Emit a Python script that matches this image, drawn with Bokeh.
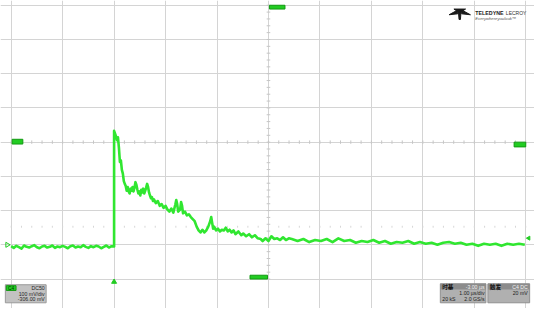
import math
from bokeh.plotting import figure
from bokeh.models import Range1d, Grid, FixedTicker, Label
from bokeh.embed import file_html
from bokeh.resources import INLINE

# ---------------- data (time in µs, C4 signal in mV as displayed) ----------------
time_us = [
    -5.00, -4.95, -4.90, -4.85, -4.80, -4.75, -4.70, -4.65, -4.60, -4.55,
    -4.50, -4.45, -4.40, -4.35, -4.30, -4.25, -4.20, -4.15, -4.10, -4.05,
    -4.00, -3.95, -3.90, -3.85, -3.80, -3.75, -3.70, -3.65, -3.60, -3.55,
    -3.50, -3.45, -3.40, -3.35, -3.30, -3.25, -3.20, -3.15, -3.10, -3.05,
    -3.00, -3.00,
    -2.981, -2.962, -2.943, -2.925, -2.906, -2.887, -2.868, -2.849, -2.830, -2.811,
    -2.792, -2.774, -2.755, -2.736, -2.717, -2.698, -2.679, -2.660, -2.642, -2.623,
    -2.604, -2.585, -2.566, -2.547, -2.528, -2.509, -2.491, -2.472, -2.453, -2.434,
    -2.415, -2.396, -2.377, -2.358, -2.340, -2.321, -2.302, -2.283, -2.264, -2.245,
    -2.226, -2.189, -2.151, -2.113, -2.075, -2.038, -2.000, -1.962, -1.925, -1.887,
    -1.849, -1.811, -1.792, -1.774, -1.755, -1.717, -1.698, -1.679, -1.660, -1.623,
    -1.585, -1.547, -1.509, -1.472, -1.434, -1.396, -1.358, -1.321, -1.283, -1.245,
    -1.208, -1.170, -1.132, -1.113, -1.094, -1.075, -1.057, -1.019, -0.981, -0.943,
    -0.906, -0.868, -0.830, -0.792, -0.755, -0.717, -0.679, -0.642, -0.585, -0.528,
    -0.491, -0.434, -0.377, -0.321, -0.264, -0.208, -0.151, -0.113, -0.057, 0.000,
    0.057, 0.113, 0.170, 0.226, 0.283, 0.340, 0.396, 0.453, 0.566, 0.679,
    0.792, 0.906, 1.019, 1.132, 1.245, 1.358, 1.472, 1.585, 1.698, 1.811,
    1.925, 2.038, 2.151, 2.264, 2.377, 2.491, 2.604, 2.717, 2.830, 2.943,
    3.057, 3.170, 3.283, 3.396, 3.509, 3.623, 3.736, 3.849, 3.962, 4.075,
    4.189, 4.302, 4.415, 4.528, 4.642, 4.755, 4.868, 4.981,
]
signal_mv = [
    -304, -309, -303, -307, -311, -302, -306, -308, -304, -301,
    -307, -310, -305, -303, -308, -306, -302, -309, -305, -307,
    -303, -306, -310, -304, -302, -308, -305, -307, -301, -306,
    -309, -304, -307, -303, -305, -310, -306, -302, -308, -304,
    -305, 33,
    25, 17, 6, 14, -17, -58, -53, -81, -92, -114,
    -122, -128, -142, -131, -144, -150, -136, -142, -131, -144,
    -133, -117, -125, -139, -150, -144, -156, -139, -147, -136,
    -150, -142, -133, -122, -131, -147, -156, -164, -161, -172,
    -167, -178, -172, -186, -181, -192, -186, -197, -203, -194,
    -206, -183, -169, -181, -203, -197, -175, -186, -208, -203,
    -214, -211, -219, -225, -231, -247, -258, -264, -256, -264,
    -258, -247, -231, -219, -236, -253, -247, -258, -253, -261,
    -256, -258, -250, -261, -256, -264, -258, -269, -261, -272,
    -267, -275, -269, -278, -272, -281, -283, -289, -281, -289,
    -275, -283, -281, -286, -278, -286, -281, -283, -289, -283,
    -292, -286, -289, -283, -292, -281, -289, -286, -294, -289,
    -292, -286, -294, -289, -297, -292, -294, -289, -297, -292,
    -297, -294, -300, -294, -292, -297, -294, -300, -297, -303,
    -297, -300, -297, -303, -297, -300, -297, -300,
]

x_div_ticks = [-5, -4, -3, -2, -1, 0, 1, 2, 3, 4, 5]          # 1.00 µs/div
y_div_ticks = [-400, -300, -200, -100, 0, 100, 200, 300, 400]  # 100 mV/div
trigger_time_us = -3.0

# ---------------- geometry: whole 550x324 screen scaled into the figure ----------------
W, H = 534, 308
REF_W, REF_H = 550.0, 324.0
REF_PX_PER_US = 53.0     # screen px per division (x)
REF_PX_PER_MV = 0.36     # screen px per mV (y)


def fx(ref_x):
    return -5.0 + (ref_x - 11.0) / REF_PX_PER_US


def fy(ref_y):
    return 400.0 - (ref_y - 5.0) / REF_PX_PER_MV


p = figure(width=W, height=H, output_backend="svg", toolbar_location=None,
           x_axis_type=None, y_axis_type=None,
           x_range=Range1d(fx(0), fx(REF_W)), y_range=Range1d(fy(REF_H), fy(0)),
           min_border=0, outline_line_color=None, background_fill_color="white",
           border_fill_color="white")

grid_color = "#d4d4d4"
p.add_layout(Grid(dimension=0, ticker=FixedTicker(ticks=x_div_ticks),
                  bounds=(-400, 400), grid_line_color=grid_color, grid_line_width=1))
p.add_layout(Grid(dimension=1, ticker=FixedTicker(ticks=y_div_ticks),
                  bounds=(-5, 5), grid_line_color=grid_color, grid_line_width=1))

# minor ticks on centre lines
minor_x = [-5 + 0.2 * i for i in range(51)]
minor_y = [-400 + 20 * i for i in range(41)]
p.segment(x0=minor_x, x1=minor_x, y0=[-5] * len(minor_x), y1=[5] * len(minor_x),
          line_color="#c6c6c6", line_width=1)
p.segment(x0=[-0.035] * len(minor_y), x1=[0.035] * len(minor_y), y0=minor_y, y1=minor_y,
          line_color="#c6c6c6", line_width=1)
p.segment(x0=minor_x, x1=minor_x, y0=[fy(237)] * len(minor_x), y1=[fy(239)] * len(minor_x),
          line_color="#d6d6d6", line_width=1)

# trace
p.line(time_us, signal_mv, line_color="#30e630", line_width=2.6, line_join="round")

# markers (green tabs)
green = "#22cc22"
dark_green = "#129a12"
p.quad(left=[fx(12)], right=[fx(23)], top=[fy(146)], bottom=[fy(151)],
       fill_color=green, line_color=dark_green)
p.quad(left=[fx(529)], right=[fx(541)], top=[fy(149)], bottom=[fy(154)],
       fill_color=green, line_color=dark_green)
p.quad(left=[fx(277)], right=[fx(293)], top=[fy(5)], bottom=[fy(9)],
       fill_color=green, line_color=dark_green)
p.quad(left=[fx(257)], right=[fx(275)], top=[fy(289)], bottom=[fy(293)],
       fill_color=green, line_color=dark_green)
p.scatter([trigger_time_us], [fy(296)], marker="triangle", size=5,
          fill_color=green, line_color=green)
p.scatter([fx(7)], [fy(257)], marker="triangle", angle=-math.pi / 2, size=5,
          fill_color=None, line_color=green)
p.scatter([fx(544)], [fy(250)], marker="triangle", angle=math.pi / 2, size=4,
          fill_color=green, line_color=green)

FONT = "Liberation Sans"
CJK = "Noto Sans CJK SC"


def lab(px, py, text, size="5.2px", align="left", color="#222222", font=FONT, style="normal"):
    p.add_layout(Label(x=fx(px), y=fy(py), text=text, text_font=font,
                       text_font_size=size, text_align=align, text_baseline="middle",
                       text_color=color, text_font_style=style))


# left channel panel
p.quad(left=[fx(5)], right=[fx(47)], top=[fy(299)], bottom=[fy(318)],
       fill_color="#c2c2c2", line_color="#9a9a9a")
p.quad(left=[fx(6)], right=[fx(16)], top=[fy(300)], bottom=[fy(305)],
       fill_color=green, line_color=dark_green)
lab(11, 302.5, "C4", size="4.8px", align="center", color="#003300")
lab(45.5, 302.5, "DC50", align="right")
lab(45.5, 308.5, "100 mV/div", align="right")
lab(45.5, 314.5, "-306.00 mV", align="right")

# timebase panel
p.quad(left=[fx(453)], right=[fx(500)], top=[fy(298)], bottom=[fy(318)],
       fill_color="#b0b0b0", line_color="#909090")
p.quad(left=[fx(453)], right=[fx(500)], top=[fy(298)], bottom=[fy(304)],
       fill_color="#8c8c8c", line_color=None)
lab(455, 301, "时基", size="5.6px", font=CJK, color="#111111", style="bold")
lab(498.5, 301, "-3.00 µs", align="right", color="#f2f2f2")
lab(498.5, 308, "1.00 µs/div", align="right")
lab(455, 314, "20 kS")
lab(498.5, 314, "2.0 GS/s", align="right")

# trigger panel
p.quad(left=[fx(502)], right=[fx(545)], top=[fy(298)], bottom=[fy(318)],
       fill_color="#b0b0b0", line_color="#909090")
p.quad(left=[fx(502)], right=[fx(545)], top=[fy(298)], bottom=[fy(304)],
       fill_color="#8c8c8c", line_color=None)
lab(504, 301, "触发", size="5.6px", font=CJK, color="#111111", style="bold")
lab(543, 301, "C4 DC", align="right", color="#f2f2f2")
lab(543, 308, "20 mV", align="right")

# logo
p.patches(xs=[[fx(462), fx(471), fx(471)], [fx(484), fx(475), fx(475)],
              [fx(467), fx(479), fx(473)], [fx(471.6), fx(474.4), fx(473.7), fx(472.3)]],
          ys=[[fy(15), fy(10), fy(14)], [fy(15), fy(10), fy(14)],
              [fy(9), fy(9), fy(13)], [fy(11), fy(11), fy(20), fy(20)]],
          fill_color="#1a1a1a", line_color="#1a1a1a")
lab(489, 13, "TELEDYNE", size="5.3px", color="#1a1a1a", style="bold")
lab(520.5, 13, "LECROY", size="5.0px", color="#333333")
lab(489, 19, "Everywhereyoulook™", size="4.2px", color="#555555", style="italic")

open("out.html", "w").write(file_html(p, INLINE))
